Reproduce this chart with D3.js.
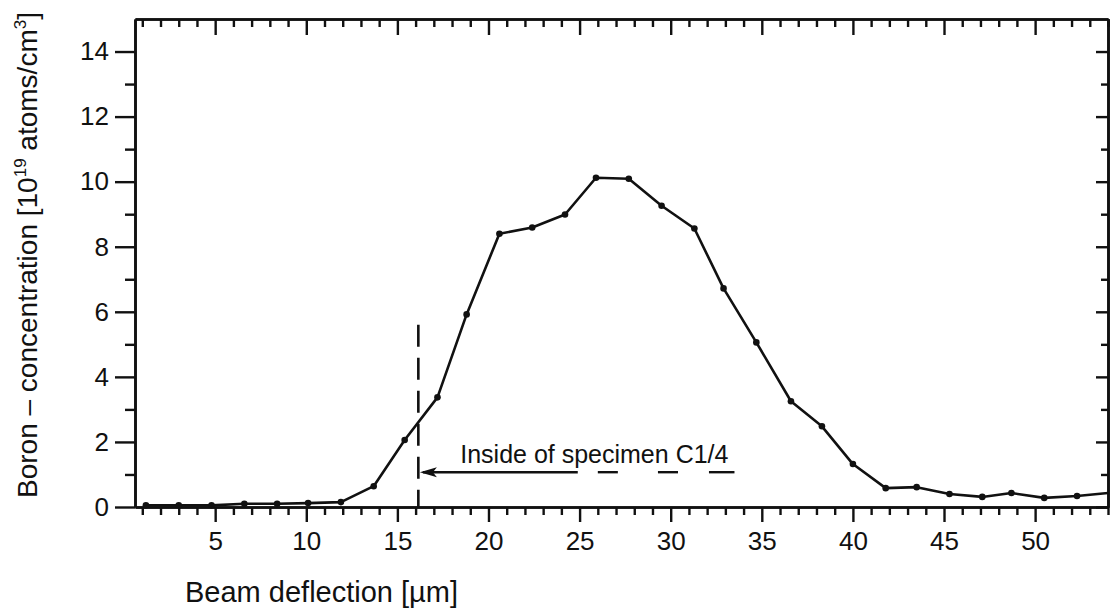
<!DOCTYPE html>
<html>
<head>
<meta charset="utf-8">
<script src="https://cdn.jsdelivr.net/npm/d3@7"></script>
<style>
  html, body { margin: 0; padding: 0; background: #fff; }
  svg { display: block; }
  text { font-family: "Liberation Sans", Arial, Helvetica, sans-serif; fill: #111; }
</style>
</head>
<body>
<svg id="chart" width="1112" height="613"></svg>
<script>
// ---- data ----
const deflection = [1.2, 3.0, 4.8, 6.6, 8.4, 10.1, 11.9, 13.7, 15.4, 17.2, 18.8, 20.6, 22.4, 24.2, 25.9, 27.7,
                    29.5, 31.3, 32.9, 34.7, 36.6, 38.3, 40.0, 41.8, 43.5, 45.3, 47.1, 48.7, 50.5, 52.3, 54.0];
const boron = [0.05, 0.05, 0.05, 0.1, 0.1, 0.12, 0.15, 0.64, 2.06, 3.37, 5.92, 8.40, 8.59, 8.99, 10.12, 10.09,
               9.26, 8.56, 6.72, 5.06, 3.25, 2.48, 1.32, 0.58, 0.61, 0.40, 0.31, 0.43, 0.28, 0.34, 0.43];
const xTickLabels = [5, 10, 15, 20, 25, 30, 35, 40, 45, 50];
const yTickLabels = [0, 2, 4, 6, 8, 10, 12, 14];
const xMinor = d3.range(1, 55).filter(v => v % 5 !== 0);
const yMinor = [1, 3, 5, 7, 9, 11, 13];
const markerX = 16.15;            // "inside of specimen" boundary
const markerTop = 5.6;
const arrowY = 1.07;
const arrowSegments = [[16.4, 24.9], [26.0, 27.1], [29.3, 30.4], [32.1, 33.5]];
const annotation = "Inside of specimen C1/4";
const annotationPos = [18.45, 1.35];
const xTitle = "Beam deflection [µm]";

// ---- layout ----
const svg = d3.select("#chart");
const L = 135, R = 1108, T = 19, B = 507;
const x = d3.scaleLinear().domain([0.6, 54]).range([L, R]);
const y = d3.scaleLinear().domain([0, 15]).range([B, T]);

function styleAxis(g) {
  g.select(".domain").attr("stroke", "#111").attr("stroke-width", 2.6);
  g.selectAll(".tick line").attr("stroke", "#111").attr("stroke-width", 2.4);
}

// bottom axis (outward ticks, labelled)
svg.append("g").attr("transform", `translate(0,${B})`)
  .call(d3.axisBottom(x).tickValues(xMinor).tickSize(8).tickFormat("").tickSizeOuter(0))
  .call(styleAxis);
svg.append("g").attr("transform", `translate(0,${B})`)
  .call(d3.axisBottom(x).tickValues(xTickLabels).tickSize(15).tickPadding(10).tickSizeOuter(0))
  .call(styleAxis)
  .call(g => g.selectAll("text").attr("font-size", 26).attr("fill", "#111")
     .attr("font-family", "'Liberation Sans', Arial, sans-serif"));

// top axis (inward ticks)
svg.append("g").attr("transform", `translate(0,${T})`)
  .call(d3.axisBottom(x).tickValues(xMinor).tickSize(8).tickFormat("").tickSizeOuter(0))
  .call(styleAxis);
svg.append("g").attr("transform", `translate(0,${T})`)
  .call(d3.axisBottom(x).tickValues(xTickLabels).tickSize(16).tickFormat("").tickSizeOuter(0))
  .call(styleAxis);

// left axis (outward ticks, labelled)
svg.append("g").attr("transform", `translate(${L},0)`)
  .call(d3.axisLeft(y).tickValues(yMinor).tickSize(10).tickFormat("").tickSizeOuter(0))
  .call(styleAxis);
svg.append("g").attr("transform", `translate(${L},0)`)
  .call(d3.axisLeft(y).tickValues(yTickLabels).tickSize(20).tickPadding(6).tickSizeOuter(0))
  .call(styleAxis)
  .call(g => g.selectAll("text").attr("font-size", 26).attr("fill", "#111")
     .attr("font-family", "'Liberation Sans', Arial, sans-serif"));

// right axis (inward ticks)
svg.append("g").attr("transform", `translate(${R},0)`)
  .call(d3.axisLeft(y).tickValues(yMinor).tickSize(7).tickFormat("").tickSizeOuter(0))
  .call(styleAxis);
svg.append("g").attr("transform", `translate(${R},0)`)
  .call(d3.axisLeft(y).tickValues(yTickLabels).tickSize(12).tickFormat("").tickSizeOuter(0))
  .call(styleAxis);

// data line
const pts = deflection.map((d, i) => [d, boron[i]]);
svg.append("path")
  .datum(pts)
  .attr("fill", "none")
  .attr("stroke", "#111")
  .attr("stroke-width", 2.6)
  .attr("stroke-linejoin", "round")
  .attr("d", d3.line().x(d => x(d[0])).y(d => y(d[1])));
svg.append("g").selectAll("circle")
  .data(pts.filter(d => d[0] < 54))
  .join("circle")
  .attr("cx", d => x(d[0]))
  .attr("cy", d => y(d[1]))
  .attr("r", 3.3)
  .attr("fill", "#111");

// dashed boundary line
svg.append("line")
  .attr("x1", x(markerX)).attr("x2", x(markerX))
  .attr("y1", y(markerTop)).attr("y2", y(0))
  .attr("stroke", "#111").attr("stroke-width", 2.6)
  .attr("stroke-dasharray", "22,11");

// arrow with dashed tail
svg.append("g").selectAll("line")
  .data(arrowSegments)
  .join("line")
  .attr("x1", d => x(d[0])).attr("x2", d => x(d[1]))
  .attr("y1", y(arrowY)).attr("y2", y(arrowY))
  .attr("stroke", "#111").attr("stroke-width", 2.4);
const tipX = x(arrowSegments[0][0]) - 3, tipY = y(arrowY);
svg.append("path")
  .attr("d", `M${tipX},${tipY} L${tipX + 17},${tipY - 5} L${tipX + 13},${tipY} L${tipX + 17},${tipY + 5} Z`)
  .attr("fill", "#111");

svg.append("text")
  .attr("x", x(annotationPos[0])).attr("y", y(annotationPos[1]))
  .attr("font-size", 25)
  .text(annotation);

// axis titles
svg.append("text")
  .attr("x", 185).attr("y", 602)
  .attr("font-size", 29)
  .text(xTitle);

const yt = svg.append("text")
  .attr("transform", "translate(37,255) rotate(-90)")
  .attr("text-anchor", "middle")
  .attr("font-size", 28);
yt.append("tspan").text("Boron – concentration [10");
yt.append("tspan").attr("font-size", 17).attr("dy", -11).text("19");
yt.append("tspan").attr("dy", 11).text(" atoms/cm");
yt.append("tspan").attr("font-size", 17).attr("dy", -11).text("3");
yt.append("tspan").attr("dy", 11).text("]");
</script>
</body>
</html>
